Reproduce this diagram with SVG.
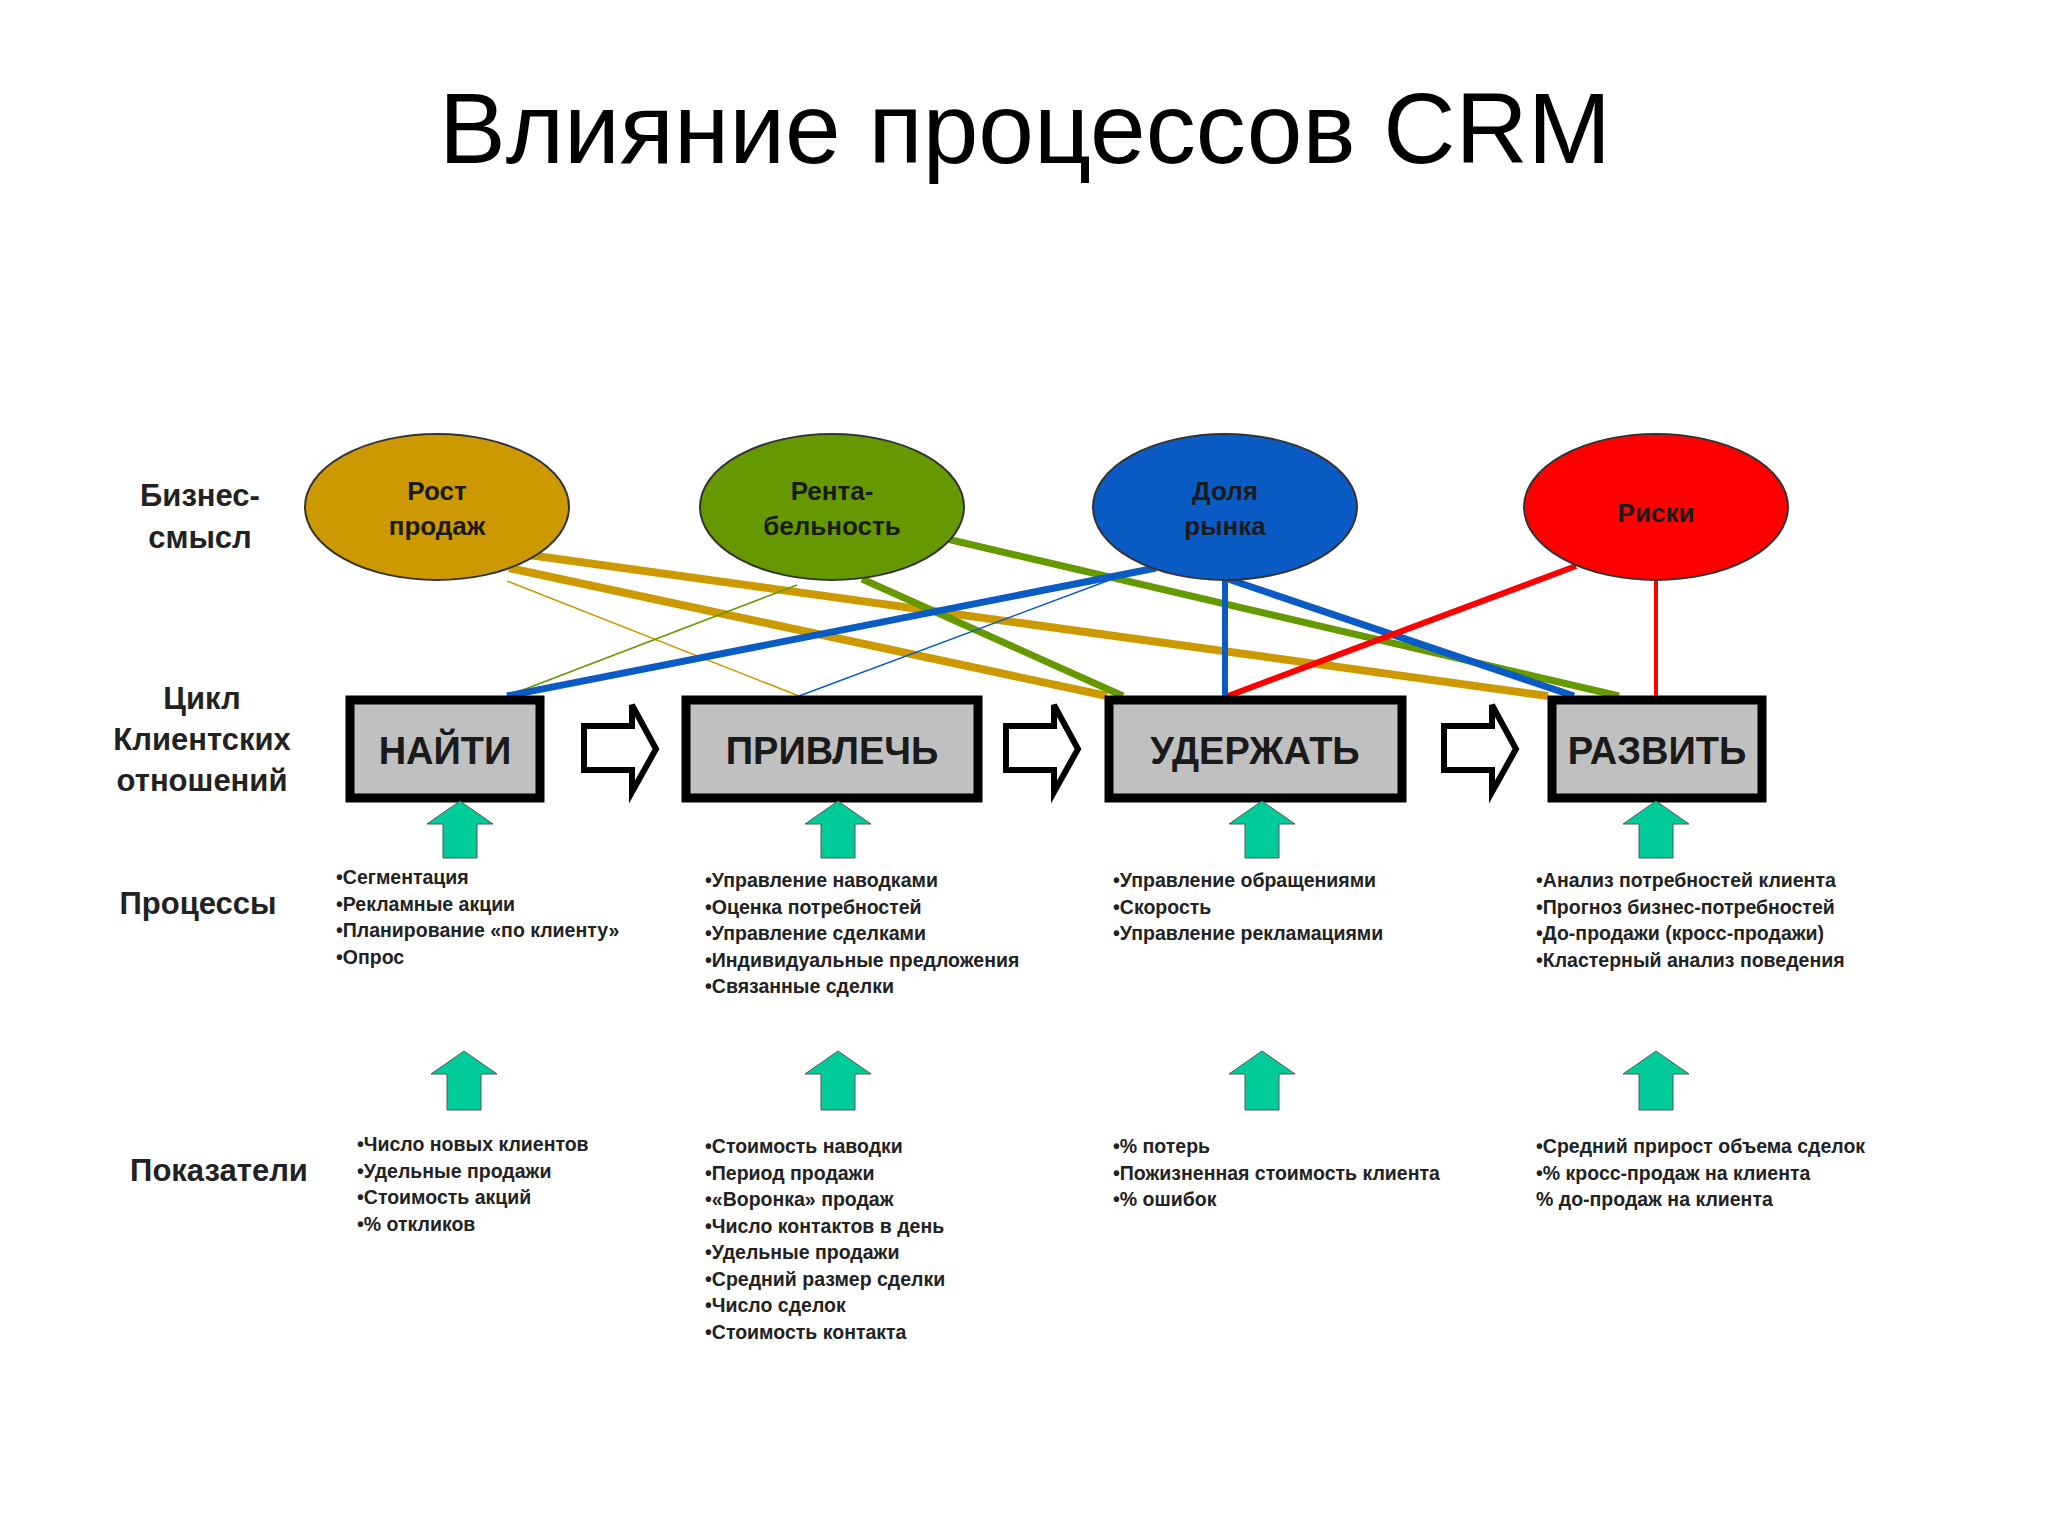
<svg xmlns="http://www.w3.org/2000/svg" width="2048" height="1536" viewBox="0 0 2048 1536">
<style>
text{font-family:"Liberation Sans",Arial,sans-serif;fill:#1a1a1a}
.title{font-size:100px;fill:#000}
.lab{font-size:31px;font-weight:bold;text-anchor:middle;fill:#222}
.ell{stroke:#333;stroke-width:2}
.et{font-size:26px;font-weight:bold;text-anchor:middle}
.box{fill:#C0C0C0;stroke:#000;stroke-width:9}
.bt{font-size:38px;font-weight:bold;text-anchor:middle}
.li{font-size:19.5px;font-weight:bold;fill:#222}
.ga{fill:#00CC99;stroke:#555;stroke-width:1}
.ba{fill:#fff;stroke:#000;stroke-width:6}
</style>
<rect width="2048" height="1536" fill="#fff"/>
<text class="title" x="1025" y="163" text-anchor="middle">Влияние процессов CRM</text>
<g id="labels">
<text class="lab" x="200" y="506">Бизнес-</text><text class="lab" x="200" y="548">смысл</text>
<text class="lab" x="202" y="709">Цикл</text><text class="lab" x="202" y="750">Клиентских</text><text class="lab" x="202" y="791">отношений</text>
<text class="lab" x="198" y="914">Процессы</text>
<text class="lab" x="219" y="1181">Показатели</text>
</g>
<g id="connectors" fill="none" stroke-linecap="butt">
<line x1="529" y1="555" x2="1548" y2="696" stroke="#CC9900" stroke-width="8"/>
<line x1="509" y1="568" x2="1107" y2="696" stroke="#CC9900" stroke-width="8"/>
<line x1="507" y1="581" x2="799" y2="696" stroke="#CC9900" stroke-width="1.5"/>
<line x1="947" y1="539" x2="1619" y2="696" stroke="#669900" stroke-width="7"/>
<line x1="862" y1="579" x2="1123" y2="696" stroke="#669900" stroke-width="7"/>
<line x1="797" y1="585" x2="507" y2="696" stroke="#669900" stroke-width="1.5"/>
<line x1="1156" y1="568" x2="507" y2="696" stroke="#0B5BC4" stroke-width="7"/>
<line x1="1225" y1="579" x2="1225" y2="696" stroke="#0B5BC4" stroke-width="6"/>
<line x1="1228" y1="579" x2="1574" y2="696" stroke="#0B5BC4" stroke-width="7"/>
<line x1="1123" y1="575" x2="799" y2="696" stroke="#0B5BC4" stroke-width="1.5"/>
<line x1="1576" y1="566" x2="1228" y2="696" stroke="#FF0000" stroke-width="6"/>
<line x1="1656" y1="579" x2="1656" y2="696" stroke="#FF0000" stroke-width="4"/>
</g>
<g id="n-rost"><ellipse class="ell" cx="437" cy="507" rx="132" ry="73" fill="#CC9900"/><text class="et" x="437" y="500">Рост</text><text class="et" x="437" y="535">продаж</text></g>
<g id="n-renta"><ellipse class="ell" cx="832" cy="507" rx="132" ry="73" fill="#669900"/><text class="et" x="832" y="500">Рента-</text><text class="et" x="832" y="535">бельность</text></g>
<g id="n-dolya"><ellipse class="ell" cx="1225" cy="507" rx="132" ry="73" fill="#0B5BC4"/><text class="et" x="1225" y="500">Доля</text><text class="et" x="1225" y="535">рынка</text></g>
<g id="n-riski"><ellipse class="ell" cx="1656" cy="507" rx="132" ry="73" fill="#FF0000"/><text class="et" x="1656" y="522">Риски</text></g>
<g id="n-naiti"><rect class="box" x="350" y="700" width="190" height="98"/><text class="bt" x="445" y="764">НАЙТИ</text></g>
<g id="n-privlech"><rect class="box" x="686" y="700" width="292" height="98"/><text class="bt" x="832" y="764">ПРИВЛЕЧЬ</text></g>
<g id="n-uderzhat"><rect class="box" x="1109" y="700" width="293" height="98"/><text class="bt" x="1255" y="764">УДЕРЖАТЬ</text></g>
<g id="n-razvit"><rect class="box" x="1552" y="700" width="210" height="98"/><text class="bt" x="1657" y="764">РАЗВИТЬ</text></g>
<g id="flow-arrows">
<polygon class="ba" points="584,726 632,726 632,705 656,749 632,792 632,770 584,770"/>
<polygon class="ba" points="1006,726 1054,726 1054,705 1078,749 1054,792 1054,770 1006,770"/>
<polygon class="ba" points="1444,726 1492,726 1492,705 1516,749 1492,792 1492,770 1444,770"/>
</g>
<g id="up-arrows">
<polygon class="ga" points="443,858 443,824 427,824 460,801 493,824 477,824 477,858"/>
<polygon class="ga" points="821,858 821,824 805,824 838,801 871,824 855,824 855,858"/>
<polygon class="ga" points="1245,858 1245,824 1229,824 1262,801 1295,824 1279,824 1279,858"/>
<polygon class="ga" points="1639,858 1639,824 1623,824 1656,801 1689,824 1673,824 1673,858"/>
<polygon class="ga" points="447,1110 447,1074 431,1074 464,1051 497,1074 481,1074 481,1110"/>
<polygon class="ga" points="821,1110 821,1074 805,1074 838,1051 871,1074 855,1074 855,1110"/>
<polygon class="ga" points="1245,1110 1245,1074 1229,1074 1262,1051 1295,1074 1279,1074 1279,1110"/>
<polygon class="ga" points="1639,1110 1639,1074 1623,1074 1656,1051 1689,1074 1673,1074 1673,1110"/>
</g>
<g id="processes">
<text class="li" x="336" y="884">•Сегментация<tspan x="336" dy="26.5">•Рекламные акции</tspan><tspan x="336" dy="26.5">•Планирование «по клиенту»</tspan><tspan x="336" dy="26.5">•Опрос</tspan></text>
<text class="li" x="705" y="887">•Управление наводками<tspan x="705" dy="26.5">•Оценка потребностей</tspan><tspan x="705" dy="26.5">•Управление сделками</tspan><tspan x="705" dy="26.5">•Индивидуальные предложения</tspan><tspan x="705" dy="26.5">•Связанные сделки</tspan></text>
<text class="li" x="1113" y="887">•Управление обращениями<tspan x="1113" dy="26.5">•Скорость</tspan><tspan x="1113" dy="26.5">•Управление рекламациями</tspan></text>
<text class="li" x="1536" y="887">•Анализ потребностей клиента<tspan x="1536" dy="26.5">•Прогноз бизнес-потребностей</tspan><tspan x="1536" dy="26.5">•До-продажи (кросс-продажи)</tspan><tspan x="1536" dy="26.5">•Кластерный анализ поведения</tspan></text>
</g>
<g id="indicators">
<text class="li" x="357" y="1151">•Число новых клиентов<tspan x="357" dy="26.5">•Удельные продажи</tspan><tspan x="357" dy="26.5">•Стоимость акций</tspan><tspan x="357" dy="26.5">•% откликов</tspan></text>
<text class="li" x="705" y="1153">•Стоимость наводки<tspan x="705" dy="26.5">•Период продажи</tspan><tspan x="705" dy="26.5">•«Воронка» продаж</tspan><tspan x="705" dy="26.5">•Число контактов в день</tspan><tspan x="705" dy="26.5">•Удельные продажи</tspan><tspan x="705" dy="26.5">•Средний размер сделки</tspan><tspan x="705" dy="26.5">•Число сделок</tspan><tspan x="705" dy="26.5">•Стоимость контакта</tspan></text>
<text class="li" x="1113" y="1153">•% потерь<tspan x="1113" dy="26.5">•Пожизненная стоимость клиента</tspan><tspan x="1113" dy="26.5">•% ошибок</tspan></text>
<text class="li" x="1536" y="1153">•Средний прирост объема сделок<tspan x="1536" dy="26.5">•% кросс-продаж на клиента</tspan><tspan x="1536" dy="26.5">% до-продаж на клиента</tspan></text>
</g>
</svg>
